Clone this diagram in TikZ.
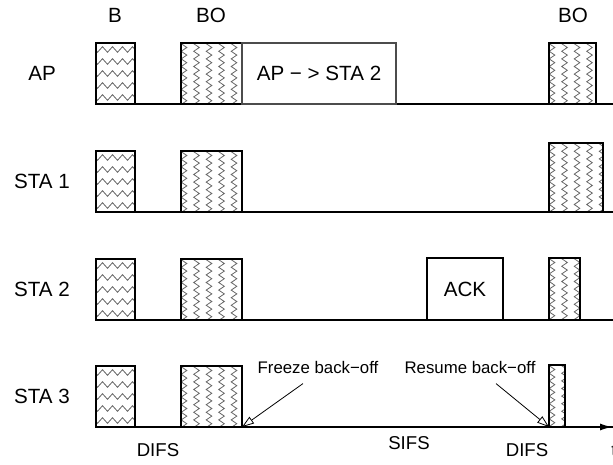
\documentclass[tikz,border=0pt]{standalone}
\usepackage{fontspec}
\setmainfont{Liberation Sans}
\usepackage{tikz}
\usetikzlibrary{decorations.pathmorphing,arrows.meta}

\begin{document}
\begin{tikzpicture}[x=0.5pt,y=-0.5pt,
    slot/.style={draw=black,line width=0.6pt},
    hzig/.style={draw=black!60,line width=0.4pt,decorate,
      decoration={zigzag,segment length=5pt,amplitude=1.4pt}},
    vzig/.style={draw=black!60,line width=0.4pt,decorate,
      decoration={zigzag,segment length=3.8pt,amplitude=1.4pt}},
    lbl/.style={font=\fontsize{10.3}{12}\selectfont},
    tim/.style={font=\fontsize{9.3}{11}\selectfont},
    note/.style={font=\fontsize{8.4}{10}\selectfont,inner sep=1pt},
    hint/.style={-{Triangle[open,length=6pt,width=4pt]},line width=0.4pt}]
  \useasboundingbox (0,0) rectangle (613,464);

  % slot names on top
  \node[lbl] (hB) at (115,15) {B};
  \node[lbl] (hBO) at (211,15) {BO};
  \node[lbl] (hBOr) at (573,15) {BO};

  % one row per station: name, time line, B and BO slots
  \foreach \name/\id/\y in {AP/ap/104, STA 1/staa/212, STA 2/stab/320, STA 3/stac/427}{
    \node[lbl] (\id) at (42,\y-31) {\name};
    \draw[line width=0.6pt] (96,\y) -- (613,\y);
    % B slot
    \begin{scope}
      \clip (96,\y-61) rectangle (135,\y);
      \foreach \k in {0,...,4}
        \draw[hzig] (90,\y-54.5+12*\k) -- (142,\y-54.5+12*\k);
    \end{scope}
    \draw[slot] (96,\y) rectangle (135,\y-61);
    % BO slot
    \begin{scope}
      \clip (181,\y-61) rectangle (242,\y);
      \foreach \k in {0,...,4}
        \draw[vzig] (184+12.5*\k,\y-66) -- (184+12.5*\k,\y+4);
    \end{scope}
    \draw[slot] (181,\y) rectangle (242,\y-61);
  }

  % remaining back-off after the exchange
  \foreach \x/\w/\y/\h in {549/47/104/61, 549/54/212/69, 549/31/320/62, 549/16/427/62}{
    \begin{scope}
      \clip (\x,\y-\h) rectangle (\x+\w,\y);
      \foreach \k in {0,...,4}
        \draw[vzig] (\x+3+12.5*\k,\y-\h-5) -- (\x+3+12.5*\k,\y+4);
    \end{scope}
    \draw[slot] (\x,\y) rectangle (\x+\w,\y-\h);
  }

  % data and ack frames
  \draw[slot,draw=black!70] (242,104) rectangle (396,43) node[pos=.5,lbl] (data) {AP − > STA 2};
  \draw[slot] (427,320) rectangle (503,258) node[pos=.5,lbl] (ack) {ACK};

  % time axis
  \draw[line width=0.6pt,-{Latex[length=6pt,width=3.5pt]}] (96,427) -- (612,427);
  \node[tim,anchor=west,inner sep=0pt] (t) at (611,451) {t};

  \node[tim] (difsa) at (158,450) {DIFS};
  \node[tim] (sifs) at (409,443) {SIFS};
  \node[tim] (difsb) at (527,450) {DIFS};

  % freeze / resume marks
  \coordinate (frzend) at (242,427);
  \coordinate (resend) at (549,427);
  \node[note] (frz) at (318,367) {Freeze back−off};
  \node[note] (res) at (470,367) {Resume back−off};
  \draw[hint] ([shift={(-15,8)}]frz.south) -- (frzend);
  \draw[hint] ([shift={(26,8)}]res.south) -- (resend);
\end{tikzpicture}
\end{document}
